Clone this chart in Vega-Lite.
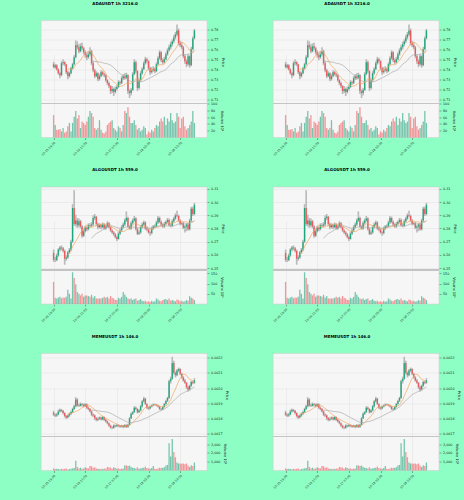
{
"$schema":"https://vega.github.io/schema/vega-lite/v6.json",
"background":"#8effc4",
"padding":{"left":40,"top":1.5,"right":3,"bottom":12},
"config":{
 "font":"DejaVu Sans",
 "view":{"stroke":"#cfcfcf","strokeWidth":0.6,"fill":"#f6f6f6"},
 "axis":{"labelFontSize":3.3,"titleFontSize":3.6,"titleFontWeight":"normal","tickSize":2,"tickWidth":0.5,"tickColor":"#555555","domain":false,"gridColor":"#e0e0e0","gridWidth":0.5,"labelColor":"#222222","titleColor":"#222222","labelPadding":1.5,"titlePadding":2.5,"labelOverlap":false,"labelFlush":false,"tickCount":30},
 "title":{"fontSize":4,"fontWeight":"bold","offset":14.5,"color":"#000000","anchor":"middle","dx":-9}
},
"datasets":{
"ada":[
{"t":"2025-10-15T15:00","o":0.745,"h":0.7475,"l":0.741,"c":0.742,"v":66},
{"t":"2025-10-15T16:00","o":0.742,"h":0.7455,"l":0.7405,"c":0.744,"v":37},
{"t":"2025-10-15T17:00","o":0.744,"h":0.745,"l":0.7385,"c":0.740,"v":23},
{"t":"2025-10-15T18:00","o":0.740,"h":0.741,"l":0.7345,"c":0.736,"v":23},
{"t":"2025-10-15T19:00","o":0.736,"h":0.7375,"l":0.731,"c":0.734,"v":25},
{"t":"2025-10-15T20:00","o":0.734,"h":0.748,"l":0.733,"c":0.746,"v":18},
{"t":"2025-10-15T21:00","o":0.746,"h":0.750,"l":0.744,"c":0.747,"v":28},
{"t":"2025-10-15T22:00","o":0.747,"h":0.748,"l":0.743,"c":0.745,"v":14},
{"t":"2025-10-15T23:00","o":0.745,"h":0.7455,"l":0.735,"c":0.737,"v":18},
{"t":"2025-10-16T00:00","o":0.737,"h":0.7385,"l":0.730,"c":0.733,"v":33},
{"t":"2025-10-16T01:00","o":0.733,"h":0.7375,"l":0.7315,"c":0.736,"v":43},
{"t":"2025-10-16T02:00","o":0.736,"h":0.7425,"l":0.735,"c":0.741,"v":18},
{"t":"2025-10-16T03:00","o":0.741,"h":0.7465,"l":0.7395,"c":0.745,"v":43},
{"t":"2025-10-16T04:00","o":0.745,"h":0.754,"l":0.744,"c":0.752,"v":61},
{"t":"2025-10-16T05:00","o":0.752,"h":0.769,"l":0.751,"c":0.764,"v":78},
{"t":"2025-10-16T06:00","o":0.764,"h":0.768,"l":0.760,"c":0.762,"v":56},
{"t":"2025-10-16T07:00","o":0.762,"h":0.765,"l":0.756,"c":0.758,"v":66},
{"t":"2025-10-16T08:00","o":0.758,"h":0.766,"l":0.757,"c":0.763,"v":28},
{"t":"2025-10-16T09:00","o":0.763,"h":0.7665,"l":0.759,"c":0.761,"v":47},
{"t":"2025-10-16T10:00","o":0.761,"h":0.7625,"l":0.755,"c":0.757,"v":43},
{"t":"2025-10-16T11:00","o":0.757,"h":0.759,"l":0.7515,"c":0.754,"v":37},
{"t":"2025-10-16T12:00","o":0.754,"h":0.7565,"l":0.749,"c":0.752,"v":47},
{"t":"2025-10-16T13:00","o":0.752,"h":0.758,"l":0.7505,"c":0.755,"v":61},
{"t":"2025-10-16T14:00","o":0.755,"h":0.762,"l":0.753,"c":0.758,"v":78},
{"t":"2025-10-16T15:00","o":0.758,"h":0.7595,"l":0.744,"c":0.746,"v":72},
{"t":"2025-10-16T16:00","o":0.746,"h":0.748,"l":0.737,"c":0.739,"v":61},
{"t":"2025-10-16T17:00","o":0.739,"h":0.7405,"l":0.731,"c":0.733,"v":28},
{"t":"2025-10-16T18:00","o":0.733,"h":0.738,"l":0.732,"c":0.736,"v":23},
{"t":"2025-10-16T19:00","o":0.736,"h":0.737,"l":0.728,"c":0.730,"v":28},
{"t":"2025-10-16T20:00","o":0.730,"h":0.7355,"l":0.7285,"c":0.733,"v":51},
{"t":"2025-10-16T21:00","o":0.733,"h":0.739,"l":0.732,"c":0.737,"v":23},
{"t":"2025-10-16T22:00","o":0.737,"h":0.7385,"l":0.7335,"c":0.735,"v":14},
{"t":"2025-10-16T23:00","o":0.735,"h":0.7365,"l":0.732,"c":0.734,"v":12},
{"t":"2025-10-17T00:00","o":0.734,"h":0.735,"l":0.7275,"c":0.729,"v":18},
{"t":"2025-10-17T01:00","o":0.729,"h":0.730,"l":0.724,"c":0.726,"v":37},
{"t":"2025-10-17T02:00","o":0.726,"h":0.7275,"l":0.721,"c":0.723,"v":43},
{"t":"2025-10-17T03:00","o":0.723,"h":0.724,"l":0.715,"c":0.718,"v":47},
{"t":"2025-10-17T04:00","o":0.718,"h":0.723,"l":0.716,"c":0.720,"v":51},
{"t":"2025-10-17T05:00","o":0.720,"h":0.7215,"l":0.713,"c":0.717,"v":28},
{"t":"2025-10-17T06:00","o":0.717,"h":0.7225,"l":0.7155,"c":0.720,"v":23},
{"t":"2025-10-17T07:00","o":0.720,"h":0.724,"l":0.7185,"c":0.722,"v":18},
{"t":"2025-10-17T08:00","o":0.722,"h":0.729,"l":0.721,"c":0.727,"v":33},
{"t":"2025-10-17T09:00","o":0.727,"h":0.7285,"l":0.724,"c":0.726,"v":28},
{"t":"2025-10-17T10:00","o":0.726,"h":0.733,"l":0.725,"c":0.731,"v":18},
{"t":"2025-10-17T11:00","o":0.731,"h":0.735,"l":0.729,"c":0.733,"v":37},
{"t":"2025-10-17T12:00","o":0.733,"h":0.736,"l":0.7295,"c":0.731,"v":78},
{"t":"2025-10-17T13:00","o":0.731,"h":0.7365,"l":0.730,"c":0.734,"v":72},
{"t":"2025-10-17T14:00","o":0.734,"h":0.735,"l":0.715,"c":0.718,"v":89},
{"t":"2025-10-17T15:00","o":0.718,"h":0.720,"l":0.711,"c":0.716,"v":61},
{"t":"2025-10-17T16:00","o":0.716,"h":0.721,"l":0.7135,"c":0.719,"v":43},
{"t":"2025-10-17T17:00","o":0.719,"h":0.737,"l":0.718,"c":0.735,"v":43},
{"t":"2025-10-17T18:00","o":0.735,"h":0.750,"l":0.734,"c":0.747,"v":51},
{"t":"2025-10-17T19:00","o":0.747,"h":0.7485,"l":0.736,"c":0.738,"v":37},
{"t":"2025-10-17T20:00","o":0.738,"h":0.739,"l":0.718,"c":0.721,"v":23},
{"t":"2025-10-17T21:00","o":0.721,"h":0.731,"l":0.7195,"c":0.729,"v":28},
{"t":"2025-10-17T22:00","o":0.729,"h":0.738,"l":0.7275,"c":0.736,"v":18},
{"t":"2025-10-17T23:00","o":0.736,"h":0.742,"l":0.7345,"c":0.740,"v":23},
{"t":"2025-10-18T00:00","o":0.740,"h":0.748,"l":0.739,"c":0.746,"v":33},
{"t":"2025-10-18T01:00","o":0.746,"h":0.7525,"l":0.7445,"c":0.750,"v":28},
{"t":"2025-10-18T02:00","o":0.750,"h":0.7515,"l":0.746,"c":0.748,"v":9},
{"t":"2025-10-18T03:00","o":0.748,"h":0.749,"l":0.739,"c":0.741,"v":18},
{"t":"2025-10-18T04:00","o":0.741,"h":0.7425,"l":0.7345,"c":0.737,"v":14},
{"t":"2025-10-18T05:00","o":0.737,"h":0.742,"l":0.7355,"c":0.739,"v":23},
{"t":"2025-10-18T06:00","o":0.739,"h":0.743,"l":0.7375,"c":0.740,"v":18},
{"t":"2025-10-18T07:00","o":0.740,"h":0.7415,"l":0.736,"c":0.738,"v":28},
{"t":"2025-10-18T08:00","o":0.738,"h":0.747,"l":0.737,"c":0.745,"v":37},
{"t":"2025-10-18T09:00","o":0.745,"h":0.753,"l":0.744,"c":0.751,"v":33},
{"t":"2025-10-18T10:00","o":0.751,"h":0.759,"l":0.7495,"c":0.757,"v":47},
{"t":"2025-10-18T11:00","o":0.757,"h":0.758,"l":0.747,"c":0.749,"v":56},
{"t":"2025-10-18T12:00","o":0.749,"h":0.751,"l":0.745,"c":0.747,"v":47},
{"t":"2025-10-18T13:00","o":0.747,"h":0.7525,"l":0.746,"c":0.750,"v":61},
{"t":"2025-10-18T14:00","o":0.750,"h":0.757,"l":0.749,"c":0.755,"v":37},
{"t":"2025-10-18T15:00","o":0.755,"h":0.761,"l":0.7535,"c":0.759,"v":56},
{"t":"2025-10-18T16:00","o":0.759,"h":0.7645,"l":0.7575,"c":0.762,"v":47},
{"t":"2025-10-18T17:00","o":0.762,"h":0.7675,"l":0.760,"c":0.765,"v":72},
{"t":"2025-10-18T18:00","o":0.765,"h":0.770,"l":0.763,"c":0.768,"v":51},
{"t":"2025-10-18T19:00","o":0.768,"h":0.7745,"l":0.766,"c":0.772,"v":43},
{"t":"2025-10-18T20:00","o":0.772,"h":0.7775,"l":0.770,"c":0.775,"v":47},
{"t":"2025-10-18T21:00","o":0.775,"h":0.785,"l":0.7735,"c":0.779,"v":72},
{"t":"2025-10-18T22:00","o":0.779,"h":0.781,"l":0.764,"c":0.766,"v":61},
{"t":"2025-10-18T23:00","o":0.766,"h":0.769,"l":0.762,"c":0.764,"v":28},
{"t":"2025-10-19T00:00","o":0.764,"h":0.767,"l":0.760,"c":0.762,"v":56},
{"t":"2025-10-19T01:00","o":0.762,"h":0.7635,"l":0.751,"c":0.753,"v":61},
{"t":"2025-10-19T02:00","o":0.753,"h":0.7545,"l":0.7455,"c":0.748,"v":33},
{"t":"2025-10-19T03:00","o":0.748,"h":0.750,"l":0.742,"c":0.745,"v":23},
{"t":"2025-10-19T04:00","o":0.745,"h":0.755,"l":0.7435,"c":0.753,"v":28},
{"t":"2025-10-19T05:00","o":0.753,"h":0.754,"l":0.7415,"c":0.744,"v":37},
{"t":"2025-10-19T06:00","o":0.744,"h":0.7625,"l":0.743,"c":0.760,"v":47},
{"t":"2025-10-19T07:00","o":0.760,"h":0.773,"l":0.759,"c":0.771,"v":78},
{"t":"2025-10-19T08:00","o":0.771,"h":0.7805,"l":0.770,"c":0.779,"v":43}
],
"algo":[
{"t":"2025-10-15T15:00","o":0.2614,"h":0.2640,"l":0.2548,"c":0.2563,"v":108},
{"t":"2025-10-15T16:00","o":0.2563,"h":0.2585,"l":0.2545,"c":0.2560,"v":30},
{"t":"2025-10-15T17:00","o":0.2560,"h":0.2610,"l":0.2552,"c":0.2595,"v":27},
{"t":"2025-10-15T18:00","o":0.2595,"h":0.2650,"l":0.2585,"c":0.2640,"v":32},
{"t":"2025-10-15T19:00","o":0.2640,"h":0.2668,"l":0.2625,"c":0.2655,"v":35},
{"t":"2025-10-15T20:00","o":0.2655,"h":0.2672,"l":0.2635,"c":0.2650,"v":28},
{"t":"2025-10-15T21:00","o":0.2650,"h":0.2660,"l":0.2618,"c":0.2630,"v":32},
{"t":"2025-10-15T22:00","o":0.2630,"h":0.2640,"l":0.2525,"c":0.2570,"v":30},
{"t":"2025-10-15T23:00","o":0.2570,"h":0.2598,"l":0.2555,"c":0.2580,"v":35},
{"t":"2025-10-16T00:00","o":0.2580,"h":0.2630,"l":0.2570,"c":0.2620,"v":70},
{"t":"2025-10-16T01:00","o":0.2620,"h":0.2652,"l":0.2608,"c":0.2640,"v":50},
{"t":"2025-10-16T02:00","o":0.2640,"h":0.2715,"l":0.2630,"c":0.2700,"v":27},
{"t":"2025-10-16T03:00","o":0.2700,"h":0.2985,"l":0.2690,"c":0.2956,"v":155},
{"t":"2025-10-16T04:00","o":0.2956,"h":0.3090,"l":0.2820,"c":0.2835,"v":127},
{"t":"2025-10-16T05:00","o":0.2835,"h":0.2905,"l":0.2815,"c":0.2860,"v":96},
{"t":"2025-10-16T06:00","o":0.2860,"h":0.2880,"l":0.2805,"c":0.2825,"v":58},
{"t":"2025-10-16T07:00","o":0.2825,"h":0.2875,"l":0.2810,"c":0.2855,"v":50},
{"t":"2025-10-16T08:00","o":0.2855,"h":0.2865,"l":0.2800,"c":0.2815,"v":42},
{"t":"2025-10-16T09:00","o":0.2815,"h":0.2825,"l":0.2730,"c":0.2745,"v":50},
{"t":"2025-10-16T10:00","o":0.2745,"h":0.2795,"l":0.2735,"c":0.2780,"v":35},
{"t":"2025-10-16T11:00","o":0.2780,"h":0.2820,"l":0.2770,"c":0.2805,"v":42},
{"t":"2025-10-16T12:00","o":0.2805,"h":0.2815,"l":0.2780,"c":0.2795,"v":42},
{"t":"2025-10-16T13:00","o":0.2795,"h":0.2840,"l":0.2785,"c":0.2825,"v":39},
{"t":"2025-10-16T14:00","o":0.2825,"h":0.2840,"l":0.2805,"c":0.2820,"v":35},
{"t":"2025-10-16T15:00","o":0.2820,"h":0.2850,"l":0.2810,"c":0.2830,"v":45},
{"t":"2025-10-16T16:00","o":0.2830,"h":0.2900,"l":0.2820,"c":0.2880,"v":30},
{"t":"2025-10-16T17:00","o":0.2880,"h":0.2910,"l":0.2865,"c":0.2890,"v":39},
{"t":"2025-10-16T18:00","o":0.2890,"h":0.2895,"l":0.2820,"c":0.2835,"v":27},
{"t":"2025-10-16T19:00","o":0.2835,"h":0.2845,"l":0.2795,"c":0.2810,"v":27},
{"t":"2025-10-16T20:00","o":0.2810,"h":0.2840,"l":0.2800,"c":0.2825,"v":27},
{"t":"2025-10-16T21:00","o":0.2825,"h":0.2835,"l":0.2795,"c":0.2810,"v":27},
{"t":"2025-10-16T22:00","o":0.2810,"h":0.2845,"l":0.2800,"c":0.2830,"v":30},
{"t":"2025-10-16T23:00","o":0.2830,"h":0.2840,"l":0.2790,"c":0.2800,"v":35},
{"t":"2025-10-17T00:00","o":0.2800,"h":0.2830,"l":0.2790,"c":0.2815,"v":30},
{"t":"2025-10-17T01:00","o":0.2815,"h":0.2855,"l":0.2805,"c":0.2840,"v":35},
{"t":"2025-10-17T02:00","o":0.2840,"h":0.2850,"l":0.2800,"c":0.2810,"v":27},
{"t":"2025-10-17T03:00","o":0.2810,"h":0.2820,"l":0.2775,"c":0.2785,"v":39},
{"t":"2025-10-17T04:00","o":0.2785,"h":0.2795,"l":0.2760,"c":0.2770,"v":30},
{"t":"2025-10-17T05:00","o":0.2770,"h":0.2780,"l":0.2745,"c":0.2755,"v":27},
{"t":"2025-10-17T06:00","o":0.2755,"h":0.2765,"l":0.2725,"c":0.2735,"v":19},
{"t":"2025-10-17T07:00","o":0.2735,"h":0.2745,"l":0.2705,"c":0.2720,"v":19},
{"t":"2025-10-17T08:00","o":0.2720,"h":0.2775,"l":0.2715,"c":0.2760,"v":30},
{"t":"2025-10-17T09:00","o":0.2760,"h":0.2800,"l":0.2750,"c":0.2785,"v":27},
{"t":"2025-10-17T10:00","o":0.2785,"h":0.2825,"l":0.2775,"c":0.2810,"v":35},
{"t":"2025-10-17T11:00","o":0.2810,"h":0.2845,"l":0.2800,"c":0.2830,"v":58},
{"t":"2025-10-17T12:00","o":0.2830,"h":0.2875,"l":0.2820,"c":0.2860,"v":46},
{"t":"2025-10-17T13:00","o":0.2860,"h":0.2930,"l":0.2850,"c":0.2880,"v":35},
{"t":"2025-10-17T14:00","o":0.2880,"h":0.2890,"l":0.2805,"c":0.2815,"v":27},
{"t":"2025-10-17T15:00","o":0.2815,"h":0.2825,"l":0.2790,"c":0.2800,"v":24},
{"t":"2025-10-17T16:00","o":0.2800,"h":0.2855,"l":0.2790,"c":0.2840,"v":27},
{"t":"2025-10-17T17:00","o":0.2840,"h":0.2875,"l":0.2830,"c":0.2860,"v":19},
{"t":"2025-10-17T18:00","o":0.2860,"h":0.2895,"l":0.2850,"c":0.2875,"v":24},
{"t":"2025-10-17T19:00","o":0.2875,"h":0.2885,"l":0.2785,"c":0.2795,"v":27},
{"t":"2025-10-17T20:00","o":0.2795,"h":0.2805,"l":0.2750,"c":0.2760,"v":16},
{"t":"2025-10-17T21:00","o":0.2760,"h":0.2785,"l":0.2750,"c":0.2770,"v":19},
{"t":"2025-10-17T22:00","o":0.2770,"h":0.2825,"l":0.2760,"c":0.2810,"v":24},
{"t":"2025-10-17T23:00","o":0.2810,"h":0.2845,"l":0.2800,"c":0.2830,"v":16},
{"t":"2025-10-18T00:00","o":0.2830,"h":0.2860,"l":0.2820,"c":0.2845,"v":13},
{"t":"2025-10-18T01:00","o":0.2845,"h":0.2855,"l":0.2790,"c":0.2800,"v":16},
{"t":"2025-10-18T02:00","o":0.2800,"h":0.2815,"l":0.2780,"c":0.2790,"v":11},
{"t":"2025-10-18T03:00","o":0.2790,"h":0.2800,"l":0.2760,"c":0.2770,"v":13},
{"t":"2025-10-18T04:00","o":0.2770,"h":0.2780,"l":0.2745,"c":0.2765,"v":10},
{"t":"2025-10-18T05:00","o":0.2765,"h":0.2815,"l":0.2755,"c":0.2800,"v":16},
{"t":"2025-10-18T06:00","o":0.2800,"h":0.2825,"l":0.2790,"c":0.2815,"v":11},
{"t":"2025-10-18T07:00","o":0.2815,"h":0.2830,"l":0.2805,"c":0.2820,"v":13},
{"t":"2025-10-18T08:00","o":0.2820,"h":0.2860,"l":0.2810,"c":0.2845,"v":27},
{"t":"2025-10-18T09:00","o":0.2845,"h":0.2895,"l":0.2835,"c":0.2880,"v":22},
{"t":"2025-10-18T10:00","o":0.2880,"h":0.2890,"l":0.2840,"c":0.2850,"v":16},
{"t":"2025-10-18T11:00","o":0.2850,"h":0.2860,"l":0.2820,"c":0.2830,"v":14},
{"t":"2025-10-18T12:00","o":0.2830,"h":0.2840,"l":0.2805,"c":0.2815,"v":19},
{"t":"2025-10-18T13:00","o":0.2815,"h":0.2850,"l":0.2805,"c":0.2835,"v":22},
{"t":"2025-10-18T14:00","o":0.2835,"h":0.2860,"l":0.2825,"c":0.2850,"v":24},
{"t":"2025-10-18T15:00","o":0.2850,"h":0.2880,"l":0.2840,"c":0.2865,"v":19},
{"t":"2025-10-18T16:00","o":0.2865,"h":0.2875,"l":0.2815,"c":0.2825,"v":27},
{"t":"2025-10-18T17:00","o":0.2825,"h":0.2840,"l":0.2810,"c":0.2820,"v":16},
{"t":"2025-10-18T18:00","o":0.2820,"h":0.2870,"l":0.2810,"c":0.2855,"v":19},
{"t":"2025-10-18T19:00","o":0.2855,"h":0.2890,"l":0.2845,"c":0.2875,"v":16},
{"t":"2025-10-18T20:00","o":0.2875,"h":0.2915,"l":0.2865,"c":0.2900,"v":13},
{"t":"2025-10-18T21:00","o":0.2900,"h":0.2935,"l":0.2885,"c":0.2895,"v":22},
{"t":"2025-10-18T22:00","o":0.2895,"h":0.2905,"l":0.2850,"c":0.2860,"v":19},
{"t":"2025-10-18T23:00","o":0.2860,"h":0.2870,"l":0.2825,"c":0.2835,"v":14},
{"t":"2025-10-19T00:00","o":0.2835,"h":0.2850,"l":0.2825,"c":0.2840,"v":16},
{"t":"2025-10-19T01:00","o":0.2840,"h":0.2850,"l":0.2795,"c":0.2805,"v":11},
{"t":"2025-10-19T02:00","o":0.2805,"h":0.2825,"l":0.2770,"c":0.2815,"v":13},
{"t":"2025-10-19T03:00","o":0.2815,"h":0.2840,"l":0.2780,"c":0.2830,"v":19},
{"t":"2025-10-19T04:00","o":0.2830,"h":0.2840,"l":0.2785,"c":0.2795,"v":16},
{"t":"2025-10-19T05:00","o":0.2795,"h":0.2875,"l":0.2785,"c":0.2860,"v":38},
{"t":"2025-10-19T06:00","o":0.2860,"h":0.2965,"l":0.2850,"c":0.2950,"v":30},
{"t":"2025-10-19T07:00","o":0.2950,"h":0.2965,"l":0.2895,"c":0.2910,"v":27},
{"t":"2025-10-19T08:00","o":0.2910,"h":0.2995,"l":0.2900,"c":0.2980,"v":19}
],
"meme":[
{"t":"2025-10-15T15:00","o":0.001838,"h":0.001850,"l":0.001815,"c":0.001825,"v":240},
{"t":"2025-10-15T16:00","o":0.001825,"h":0.001832,"l":0.001808,"c":0.001818,"v":160},
{"t":"2025-10-15T17:00","o":0.001818,"h":0.001835,"l":0.001810,"c":0.001825,"v":200},
{"t":"2025-10-15T18:00","o":0.001825,"h":0.001858,"l":0.001820,"c":0.001845,"v":160},
{"t":"2025-10-15T19:00","o":0.001845,"h":0.001865,"l":0.001838,"c":0.001855,"v":120},
{"t":"2025-10-15T20:00","o":0.001855,"h":0.001862,"l":0.001840,"c":0.001850,"v":200},
{"t":"2025-10-15T21:00","o":0.001850,"h":0.001855,"l":0.001825,"c":0.001835,"v":160},
{"t":"2025-10-15T22:00","o":0.001835,"h":0.001840,"l":0.001805,"c":0.001815,"v":200},
{"t":"2025-10-15T23:00","o":0.001815,"h":0.001822,"l":0.001795,"c":0.001805,"v":240},
{"t":"2025-10-16T00:00","o":0.001805,"h":0.001825,"l":0.001800,"c":0.001818,"v":120},
{"t":"2025-10-16T01:00","o":0.001818,"h":0.001838,"l":0.001810,"c":0.001830,"v":160},
{"t":"2025-10-16T02:00","o":0.001830,"h":0.001850,"l":0.001822,"c":0.001842,"v":200},
{"t":"2025-10-16T03:00","o":0.001842,"h":0.001870,"l":0.001835,"c":0.001862,"v":240},
{"t":"2025-10-16T04:00","o":0.001862,"h":0.001890,"l":0.001855,"c":0.001880,"v":280},
{"t":"2025-10-16T05:00","o":0.001880,"h":0.001940,"l":0.001872,"c":0.001925,"v":1120},
{"t":"2025-10-16T06:00","o":0.001925,"h":0.001932,"l":0.001878,"c":0.001885,"v":400},
{"t":"2025-10-16T07:00","o":0.001885,"h":0.001898,"l":0.001875,"c":0.001882,"v":240},
{"t":"2025-10-16T08:00","o":0.001882,"h":0.001905,"l":0.001878,"c":0.001895,"v":320},
{"t":"2025-10-16T09:00","o":0.001895,"h":0.001902,"l":0.001880,"c":0.001890,"v":200},
{"t":"2025-10-16T10:00","o":0.001890,"h":0.001898,"l":0.001872,"c":0.001880,"v":240},
{"t":"2025-10-16T11:00","o":0.001880,"h":0.001900,"l":0.001875,"c":0.001893,"v":360},
{"t":"2025-10-16T12:00","o":0.001893,"h":0.001898,"l":0.001862,"c":0.001870,"v":280},
{"t":"2025-10-16T13:00","o":0.001870,"h":0.001878,"l":0.001852,"c":0.001862,"v":240},
{"t":"2025-10-16T14:00","o":0.001862,"h":0.001868,"l":0.001838,"c":0.001845,"v":520},
{"t":"2025-10-16T15:00","o":0.001845,"h":0.001852,"l":0.001815,"c":0.001825,"v":480},
{"t":"2025-10-16T16:00","o":0.001825,"h":0.001832,"l":0.001808,"c":0.001818,"v":320},
{"t":"2025-10-16T17:00","o":0.001818,"h":0.001825,"l":0.001790,"c":0.001800,"v":360},
{"t":"2025-10-16T18:00","o":0.001800,"h":0.001808,"l":0.001780,"c":0.001790,"v":240},
{"t":"2025-10-16T19:00","o":0.001790,"h":0.001805,"l":0.001782,"c":0.001798,"v":200},
{"t":"2025-10-16T20:00","o":0.001798,"h":0.001812,"l":0.001790,"c":0.001805,"v":160},
{"t":"2025-10-16T21:00","o":0.001805,"h":0.001810,"l":0.001785,"c":0.001792,"v":200},
{"t":"2025-10-16T22:00","o":0.001792,"h":0.001815,"l":0.001788,"c":0.001808,"v":160},
{"t":"2025-10-16T23:00","o":0.001808,"h":0.001812,"l":0.001782,"c":0.001790,"v":240},
{"t":"2025-10-17T00:00","o":0.001790,"h":0.001795,"l":0.001772,"c":0.001780,"v":200},
{"t":"2025-10-17T01:00","o":0.001780,"h":0.001786,"l":0.001760,"c":0.001768,"v":400},
{"t":"2025-10-17T02:00","o":0.001768,"h":0.001772,"l":0.001745,"c":0.001752,"v":360},
{"t":"2025-10-17T03:00","o":0.001752,"h":0.001758,"l":0.001732,"c":0.001740,"v":320},
{"t":"2025-10-17T04:00","o":0.001740,"h":0.001748,"l":0.001728,"c":0.001738,"v":200},
{"t":"2025-10-17T05:00","o":0.001738,"h":0.001760,"l":0.001732,"c":0.001752,"v":360},
{"t":"2025-10-17T06:00","o":0.001752,"h":0.001758,"l":0.001740,"c":0.001748,"v":280},
{"t":"2025-10-17T07:00","o":0.001748,"h":0.001762,"l":0.001742,"c":0.001755,"v":200},
{"t":"2025-10-17T08:00","o":0.001755,"h":0.001760,"l":0.001742,"c":0.001750,"v":240},
{"t":"2025-10-17T09:00","o":0.001750,"h":0.001756,"l":0.001738,"c":0.001745,"v":160},
{"t":"2025-10-17T10:00","o":0.001745,"h":0.001758,"l":0.001740,"c":0.001752,"v":200},
{"t":"2025-10-17T11:00","o":0.001752,"h":0.001756,"l":0.001735,"c":0.001742,"v":240},
{"t":"2025-10-17T12:00","o":0.001742,"h":0.001762,"l":0.001738,"c":0.001755,"v":560},
{"t":"2025-10-17T13:00","o":0.001755,"h":0.001760,"l":0.001736,"c":0.001743,"v":600},
{"t":"2025-10-17T14:00","o":0.001743,"h":0.001765,"l":0.001738,"c":0.001758,"v":520},
{"t":"2025-10-17T15:00","o":0.001758,"h":0.001808,"l":0.001752,"c":0.001800,"v":560},
{"t":"2025-10-17T16:00","o":0.001800,"h":0.001838,"l":0.001795,"c":0.001830,"v":400},
{"t":"2025-10-17T17:00","o":0.001830,"h":0.001848,"l":0.001822,"c":0.001840,"v":320},
{"t":"2025-10-17T18:00","o":0.001840,"h":0.001880,"l":0.001835,"c":0.001870,"v":280},
{"t":"2025-10-17T19:00","o":0.001870,"h":0.001878,"l":0.001855,"c":0.001862,"v":240},
{"t":"2025-10-17T20:00","o":0.001862,"h":0.001866,"l":0.001832,"c":0.001840,"v":360},
{"t":"2025-10-17T21:00","o":0.001840,"h":0.001860,"l":0.001835,"c":0.001852,"v":200},
{"t":"2025-10-17T22:00","o":0.001852,"h":0.001888,"l":0.001845,"c":0.001880,"v":240},
{"t":"2025-10-17T23:00","o":0.001880,"h":0.001920,"l":0.001872,"c":0.001912,"v":280},
{"t":"2025-10-18T00:00","o":0.001912,"h":0.001942,"l":0.001905,"c":0.001930,"v":320},
{"t":"2025-10-18T01:00","o":0.001930,"h":0.001935,"l":0.001888,"c":0.001895,"v":440},
{"t":"2025-10-18T02:00","o":0.001895,"h":0.001900,"l":0.001862,"c":0.001870,"v":280},
{"t":"2025-10-18T03:00","o":0.001870,"h":0.001876,"l":0.001855,"c":0.001865,"v":240},
{"t":"2025-10-18T04:00","o":0.001865,"h":0.001885,"l":0.001860,"c":0.001878,"v":200},
{"t":"2025-10-18T05:00","o":0.001878,"h":0.001892,"l":0.001872,"c":0.001885,"v":280},
{"t":"2025-10-18T06:00","o":0.001885,"h":0.001898,"l":0.001880,"c":0.001892,"v":520},
{"t":"2025-10-18T07:00","o":0.001892,"h":0.001898,"l":0.001884,"c":0.001890,"v":200},
{"t":"2025-10-18T08:00","o":0.001890,"h":0.001895,"l":0.001880,"c":0.001885,"v":160},
{"t":"2025-10-18T09:00","o":0.001885,"h":0.001890,"l":0.001872,"c":0.001878,"v":240},
{"t":"2025-10-18T10:00","o":0.001878,"h":0.001882,"l":0.001855,"c":0.001862,"v":320},
{"t":"2025-10-18T11:00","o":0.001862,"h":0.001868,"l":0.001852,"c":0.001860,"v":280},
{"t":"2025-10-18T12:00","o":0.001860,"h":0.001882,"l":0.001855,"c":0.001875,"v":320},
{"t":"2025-10-18T13:00","o":0.001875,"h":0.001902,"l":0.001870,"c":0.001895,"v":360},
{"t":"2025-10-18T14:00","o":0.001895,"h":0.001922,"l":0.001890,"c":0.001915,"v":560},
{"t":"2025-10-18T15:00","o":0.001915,"h":0.001942,"l":0.001908,"c":0.001935,"v":640},
{"t":"2025-10-18T16:00","o":0.001935,"h":0.002055,"l":0.001930,"c":0.002045,"v":3120},
{"t":"2025-10-18T17:00","o":0.002045,"h":0.002075,"l":0.002030,"c":0.002060,"v":1600},
{"t":"2025-10-18T18:00","o":0.002060,"h":0.002207,"l":0.002055,"c":0.002165,"v":3600},
{"t":"2025-10-18T19:00","o":0.002165,"h":0.002180,"l":0.002090,"c":0.002100,"v":2120},
{"t":"2025-10-18T20:00","o":0.002100,"h":0.002110,"l":0.002070,"c":0.002085,"v":1520},
{"t":"2025-10-18T21:00","o":0.002085,"h":0.002125,"l":0.002078,"c":0.002115,"v":920},
{"t":"2025-10-18T22:00","o":0.002115,"h":0.002135,"l":0.002105,"c":0.002125,"v":800},
{"t":"2025-10-18T23:00","o":0.002125,"h":0.002130,"l":0.002085,"c":0.002095,"v":800},
{"t":"2025-10-19T00:00","o":0.002095,"h":0.002100,"l":0.002062,"c":0.002070,"v":760},
{"t":"2025-10-19T01:00","o":0.002070,"h":0.002078,"l":0.002042,"c":0.002050,"v":800},
{"t":"2025-10-19T02:00","o":0.002050,"h":0.002060,"l":0.002028,"c":0.002035,"v":720},
{"t":"2025-10-19T03:00","o":0.002035,"h":0.002040,"l":0.001995,"c":0.002005,"v":800},
{"t":"2025-10-19T04:00","o":0.002005,"h":0.002015,"l":0.001975,"c":0.001990,"v":560},
{"t":"2025-10-19T05:00","o":0.001990,"h":0.002022,"l":0.001982,"c":0.002015,"v":400},
{"t":"2025-10-19T06:00","o":0.002015,"h":0.002048,"l":0.002008,"c":0.002040,"v":600},
{"t":"2025-10-19T07:00","o":0.002040,"h":0.002050,"l":0.002025,"c":0.002035,"v":520},
{"t":"2025-10-19T08:00","o":0.002035,"h":0.002065,"l":0.002028,"c":0.002050,"v":920}
]
},
"columns":2,
"spacing":{"row":49.5,"column":66},
"bounds":"flush",
"concat":[
{"width":166,"height":117,"title":{"text":"ADAUSDT 1h 3216.0"},"data":{"name":"ada"},
 "layer":[
  {"layer":[
   {"mark":{"type":"rule","color":"#b9b9b9","strokeWidth":1.6},"encoding":{"x":{"field":"t","type":"temporal","title":null,"scale":{"domain":[{"year":2025,"month":10,"date":15,"hours":10,"minutes":12},{"year":2025,"month":10,"date":19,"hours":12,"minutes":48}]},"axis":{"values":[{"year":2025,"month":10,"date":15,"hours":15},{"year":2025,"month":10,"date":16,"hours":11},{"year":2025,"month":10,"date":17,"hours":7},{"year":2025,"month":10,"date":18,"hours":3},{"year":2025,"month":10,"date":18,"hours":23}],"format":"%m-%d %H:%M","labelAngle":-45,"labelFontSize":3,"tickCount":30}},"y":{"field":"l","type":"quantitative","title":"Price","scale":{"domain":[0.7055,0.789],"range":[83,0],"nice":false,"zero":false},"axis":{"orient":"right","values":[0.71,0.72,0.73,0.74,0.75,0.76,0.77,0.78],"format":".2f","tickCount":30}},"y2":{"field":"h"}}},
   {"mark":{"type":"bar","size":1.3},"encoding":{"x":{"field":"t","type":"temporal","title":null},"y":{"field":"o","type":"quantitative","title":"Price"},"y2":{"field":"c"},"color":{"condition":{"test":"datum.c >= datum.o","value":"#1fa77b"},"value":"#f0575c"}}},
   {"transform":[{"window":[{"op":"mean","field":"c","as":"m"},{"op":"count","as":"n"}],"frame":[-9,0],"sort":[{"field":"t"}]},{"filter":"datum.n >= 10"}],"mark":{"type":"line","color":"#f3a65a","strokeWidth":0.7},"encoding":{"x":{"field":"t","type":"temporal","title":null},"y":{"field":"m","type":"quantitative","title":"Price"}}},
   {"transform":[{"window":[{"op":"mean","field":"c","as":"m"},{"op":"count","as":"n"}],"frame":[-24,0],"sort":[{"field":"t"}]},{"filter":"datum.n >= 25"}],"mark":{"type":"line","color":"#a9a9a9","strokeWidth":0.7},"encoding":{"x":{"field":"t","type":"temporal","title":null},"y":{"field":"m","type":"quantitative","title":"Price"}}}
  ]},
  {"layer":[
   {"mark":{"type":"bar","size":1.3,"opacity":0.6},"encoding":{"x":{"field":"t","type":"temporal","title":null},"y":{"field":"v","type":"quantitative","title":"Volume  10⁶","scale":{"domain":[0,100],"range":[117,83],"nice":false},"axis":{"orient":"right","values":[20,40,60,80,100],"tickCount":30}},"color":{"condition":{"test":"datum.c >= datum.o","value":"#1fa77b"},"value":"#f0575c"}}},
   {"mark":{"type":"rule","color":"#c4c4c4","strokeWidth":0.6},"encoding":{"y":{"datum":100,"type":"quantitative"}}}
  ]}
 ],
 "resolve":{"scale":{"y":"independent"},"axis":{"y":"independent"}}},
{"width":166,"height":117,"title":{"text":"ADAUSDT 1h 3216.0"},"data":{"name":"ada"},
 "layer":[
  {"layer":[
   {"mark":{"type":"rule","color":"#b9b9b9","strokeWidth":1.6},"encoding":{"x":{"field":"t","type":"temporal","title":null,"scale":{"domain":[{"year":2025,"month":10,"date":15,"hours":10,"minutes":12},{"year":2025,"month":10,"date":19,"hours":12,"minutes":48}]},"axis":{"values":[{"year":2025,"month":10,"date":15,"hours":15},{"year":2025,"month":10,"date":16,"hours":11},{"year":2025,"month":10,"date":17,"hours":7},{"year":2025,"month":10,"date":18,"hours":3},{"year":2025,"month":10,"date":18,"hours":23}],"format":"%m-%d %H:%M","labelAngle":-45,"labelFontSize":3,"tickCount":30}},"y":{"field":"l","type":"quantitative","title":"Price","scale":{"domain":[0.7055,0.789],"range":[83,0],"nice":false,"zero":false},"axis":{"orient":"right","values":[0.71,0.72,0.73,0.74,0.75,0.76,0.77,0.78],"format":".2f","tickCount":30}},"y2":{"field":"h"}}},
   {"mark":{"type":"bar","size":1.3},"encoding":{"x":{"field":"t","type":"temporal","title":null},"y":{"field":"o","type":"quantitative","title":"Price"},"y2":{"field":"c"},"color":{"condition":{"test":"datum.c >= datum.o","value":"#1fa77b"},"value":"#f0575c"}}},
   {"transform":[{"window":[{"op":"mean","field":"c","as":"m"},{"op":"count","as":"n"}],"frame":[-9,0],"sort":[{"field":"t"}]},{"filter":"datum.n >= 10"}],"mark":{"type":"line","color":"#f3a65a","strokeWidth":0.7},"encoding":{"x":{"field":"t","type":"temporal","title":null},"y":{"field":"m","type":"quantitative","title":"Price"}}},
   {"transform":[{"window":[{"op":"mean","field":"c","as":"m"},{"op":"count","as":"n"}],"frame":[-24,0],"sort":[{"field":"t"}]},{"filter":"datum.n >= 25"}],"mark":{"type":"line","color":"#a9a9a9","strokeWidth":0.7},"encoding":{"x":{"field":"t","type":"temporal","title":null},"y":{"field":"m","type":"quantitative","title":"Price"}}}
  ]},
  {"layer":[
   {"mark":{"type":"bar","size":1.3,"opacity":0.6},"encoding":{"x":{"field":"t","type":"temporal","title":null},"y":{"field":"v","type":"quantitative","title":"Volume  10⁶","scale":{"domain":[0,100],"range":[117,83],"nice":false},"axis":{"orient":"right","values":[20,40,60,80,100],"tickCount":30}},"color":{"condition":{"test":"datum.c >= datum.o","value":"#1fa77b"},"value":"#f0575c"}}},
   {"mark":{"type":"rule","color":"#c4c4c4","strokeWidth":0.6},"encoding":{"y":{"datum":100,"type":"quantitative"}}}
  ]}
 ],
 "resolve":{"scale":{"y":"independent"},"axis":{"y":"independent"}}},
{"width":166,"height":117,"title":{"text":"ALGOUSDT 1h 559.0"},"data":{"name":"algo"},
 "layer":[
  {"layer":[
   {"mark":{"type":"rule","color":"#b9b9b9","strokeWidth":1.6},"encoding":{"x":{"field":"t","type":"temporal","title":null,"scale":{"domain":[{"year":2025,"month":10,"date":15,"hours":10,"minutes":12},{"year":2025,"month":10,"date":19,"hours":12,"minutes":48}]},"axis":{"values":[{"year":2025,"month":10,"date":15,"hours":15},{"year":2025,"month":10,"date":16,"hours":11},{"year":2025,"month":10,"date":17,"hours":7},{"year":2025,"month":10,"date":18,"hours":3},{"year":2025,"month":10,"date":18,"hours":23}],"format":"%m-%d %H:%M","labelAngle":-45,"labelFontSize":3,"tickCount":30}},"y":{"field":"l","type":"quantitative","title":"Price","scale":{"domain":[0.2485,0.3115],"range":[83,0],"nice":false,"zero":false},"axis":{"orient":"right","values":[0.25,0.26,0.27,0.28,0.29,0.30,0.31],"format":".2f","tickCount":30}},"y2":{"field":"h"}}},
   {"mark":{"type":"bar","size":1.3},"encoding":{"x":{"field":"t","type":"temporal","title":null},"y":{"field":"o","type":"quantitative","title":"Price"},"y2":{"field":"c"},"color":{"condition":{"test":"datum.c >= datum.o","value":"#1fa77b"},"value":"#f0575c"}}},
   {"transform":[{"window":[{"op":"mean","field":"c","as":"m"},{"op":"count","as":"n"}],"frame":[-9,0],"sort":[{"field":"t"}]},{"filter":"datum.n >= 10"}],"mark":{"type":"line","color":"#f3a65a","strokeWidth":0.7},"encoding":{"x":{"field":"t","type":"temporal","title":null},"y":{"field":"m","type":"quantitative","title":"Price"}}},
   {"transform":[{"window":[{"op":"mean","field":"c","as":"m"},{"op":"count","as":"n"}],"frame":[-24,0],"sort":[{"field":"t"}]},{"filter":"datum.n >= 25"}],"mark":{"type":"line","color":"#a9a9a9","strokeWidth":0.7},"encoding":{"x":{"field":"t","type":"temporal","title":null},"y":{"field":"m","type":"quantitative","title":"Price"}}}
  ]},
  {"layer":[
   {"mark":{"type":"bar","size":1.3,"opacity":0.6},"encoding":{"x":{"field":"t","type":"temporal","title":null},"y":{"field":"v","type":"quantitative","title":"Volume  10⁶","scale":{"domain":[0,166],"range":[117,83],"nice":false},"axis":{"orient":"right","values":[50,100,150],"tickCount":30}},"color":{"condition":{"test":"datum.c >= datum.o","value":"#1fa77b"},"value":"#f0575c"}}},
   {"mark":{"type":"rule","color":"#c4c4c4","strokeWidth":0.6},"encoding":{"y":{"datum":166,"type":"quantitative"}}}
  ]}
 ],
 "resolve":{"scale":{"y":"independent"},"axis":{"y":"independent"}}},
{"width":166,"height":117,"title":{"text":"ALGOUSDT 1h 559.0"},"data":{"name":"algo"},
 "layer":[
  {"layer":[
   {"mark":{"type":"rule","color":"#b9b9b9","strokeWidth":1.6},"encoding":{"x":{"field":"t","type":"temporal","title":null,"scale":{"domain":[{"year":2025,"month":10,"date":15,"hours":10,"minutes":12},{"year":2025,"month":10,"date":19,"hours":12,"minutes":48}]},"axis":{"values":[{"year":2025,"month":10,"date":15,"hours":15},{"year":2025,"month":10,"date":16,"hours":11},{"year":2025,"month":10,"date":17,"hours":7},{"year":2025,"month":10,"date":18,"hours":3},{"year":2025,"month":10,"date":18,"hours":23}],"format":"%m-%d %H:%M","labelAngle":-45,"labelFontSize":3,"tickCount":30}},"y":{"field":"l","type":"quantitative","title":"Price","scale":{"domain":[0.2485,0.3115],"range":[83,0],"nice":false,"zero":false},"axis":{"orient":"right","values":[0.25,0.26,0.27,0.28,0.29,0.30,0.31],"format":".2f","tickCount":30}},"y2":{"field":"h"}}},
   {"mark":{"type":"bar","size":1.3},"encoding":{"x":{"field":"t","type":"temporal","title":null},"y":{"field":"o","type":"quantitative","title":"Price"},"y2":{"field":"c"},"color":{"condition":{"test":"datum.c >= datum.o","value":"#1fa77b"},"value":"#f0575c"}}},
   {"transform":[{"window":[{"op":"mean","field":"c","as":"m"},{"op":"count","as":"n"}],"frame":[-9,0],"sort":[{"field":"t"}]},{"filter":"datum.n >= 10"}],"mark":{"type":"line","color":"#f3a65a","strokeWidth":0.7},"encoding":{"x":{"field":"t","type":"temporal","title":null},"y":{"field":"m","type":"quantitative","title":"Price"}}},
   {"transform":[{"window":[{"op":"mean","field":"c","as":"m"},{"op":"count","as":"n"}],"frame":[-24,0],"sort":[{"field":"t"}]},{"filter":"datum.n >= 25"}],"mark":{"type":"line","color":"#a9a9a9","strokeWidth":0.7},"encoding":{"x":{"field":"t","type":"temporal","title":null},"y":{"field":"m","type":"quantitative","title":"Price"}}}
  ]},
  {"layer":[
   {"mark":{"type":"bar","size":1.3,"opacity":0.6},"encoding":{"x":{"field":"t","type":"temporal","title":null},"y":{"field":"v","type":"quantitative","title":"Volume  10⁶","scale":{"domain":[0,166],"range":[117,83],"nice":false},"axis":{"orient":"right","values":[50,100,150],"tickCount":30}},"color":{"condition":{"test":"datum.c >= datum.o","value":"#1fa77b"},"value":"#f0575c"}}},
   {"mark":{"type":"rule","color":"#c4c4c4","strokeWidth":0.6},"encoding":{"y":{"datum":166,"type":"quantitative"}}}
  ]}
 ],
 "resolve":{"scale":{"y":"independent"},"axis":{"y":"independent"}}},
{"width":166,"height":117,"title":{"text":"MEMEUSDT 1h 146.0"},"data":{"name":"meme"},
 "layer":[
  {"layer":[
   {"mark":{"type":"rule","color":"#b9b9b9","strokeWidth":1.6},"encoding":{"x":{"field":"t","type":"temporal","title":null,"scale":{"domain":[{"year":2025,"month":10,"date":15,"hours":10,"minutes":12},{"year":2025,"month":10,"date":19,"hours":12,"minutes":48}]},"axis":{"values":[{"year":2025,"month":10,"date":15,"hours":15},{"year":2025,"month":10,"date":16,"hours":11},{"year":2025,"month":10,"date":17,"hours":7},{"year":2025,"month":10,"date":18,"hours":3},{"year":2025,"month":10,"date":18,"hours":23}],"format":"%m-%d %H:%M","labelAngle":-45,"labelFontSize":3,"tickCount":30}},"y":{"field":"l","type":"quantitative","title":"Price","scale":{"domain":[0.00168,0.002228],"range":[83,0],"nice":false,"zero":false},"axis":{"orient":"right","values":[0.0017,0.0018,0.0019,0.0020,0.0021,0.0022],"format":".4f","tickCount":30}},"y2":{"field":"h"}}},
   {"mark":{"type":"bar","size":1.3},"encoding":{"x":{"field":"t","type":"temporal","title":null},"y":{"field":"o","type":"quantitative","title":"Price"},"y2":{"field":"c"},"color":{"condition":{"test":"datum.c >= datum.o","value":"#1fa77b"},"value":"#f0575c"}}},
   {"transform":[{"window":[{"op":"mean","field":"c","as":"m"},{"op":"count","as":"n"}],"frame":[-9,0],"sort":[{"field":"t"}]},{"filter":"datum.n >= 10"}],"mark":{"type":"line","color":"#f3a65a","strokeWidth":0.7},"encoding":{"x":{"field":"t","type":"temporal","title":null},"y":{"field":"m","type":"quantitative","title":"Price"}}},
   {"transform":[{"window":[{"op":"mean","field":"c","as":"m"},{"op":"count","as":"n"}],"frame":[-24,0],"sort":[{"field":"t"}]},{"filter":"datum.n >= 25"}],"mark":{"type":"line","color":"#a9a9a9","strokeWidth":0.7},"encoding":{"x":{"field":"t","type":"temporal","title":null},"y":{"field":"m","type":"quantitative","title":"Price"}}}
  ]},
  {"layer":[
   {"mark":{"type":"bar","size":1.3,"opacity":0.6},"encoding":{"x":{"field":"t","type":"temporal","title":null},"y":{"field":"v","type":"quantitative","title":"Volume  10⁶","scale":{"domain":[0,3880],"range":[117,83],"nice":false},"axis":{"orient":"right","values":[1000,2000,3000],"tickCount":30}},"color":{"condition":{"test":"datum.c >= datum.o","value":"#1fa77b"},"value":"#f0575c"}}},
   {"mark":{"type":"rule","color":"#c4c4c4","strokeWidth":0.6},"encoding":{"y":{"datum":3880,"type":"quantitative"}}}
  ]}
 ],
 "resolve":{"scale":{"y":"independent"},"axis":{"y":"independent"}}},
{"width":166,"height":117,"title":{"text":"MEMEUSDT 1h 146.0"},"data":{"name":"meme"},
 "layer":[
  {"layer":[
   {"mark":{"type":"rule","color":"#b9b9b9","strokeWidth":1.6},"encoding":{"x":{"field":"t","type":"temporal","title":null,"scale":{"domain":[{"year":2025,"month":10,"date":15,"hours":10,"minutes":12},{"year":2025,"month":10,"date":19,"hours":12,"minutes":48}]},"axis":{"values":[{"year":2025,"month":10,"date":15,"hours":15},{"year":2025,"month":10,"date":16,"hours":11},{"year":2025,"month":10,"date":17,"hours":7},{"year":2025,"month":10,"date":18,"hours":3},{"year":2025,"month":10,"date":18,"hours":23}],"format":"%m-%d %H:%M","labelAngle":-45,"labelFontSize":3,"tickCount":30}},"y":{"field":"l","type":"quantitative","title":"Price","scale":{"domain":[0.00168,0.002228],"range":[83,0],"nice":false,"zero":false},"axis":{"orient":"right","values":[0.0017,0.0018,0.0019,0.0020,0.0021,0.0022],"format":".4f","tickCount":30}},"y2":{"field":"h"}}},
   {"mark":{"type":"bar","size":1.3},"encoding":{"x":{"field":"t","type":"temporal","title":null},"y":{"field":"o","type":"quantitative","title":"Price"},"y2":{"field":"c"},"color":{"condition":{"test":"datum.c >= datum.o","value":"#1fa77b"},"value":"#f0575c"}}},
   {"transform":[{"window":[{"op":"mean","field":"c","as":"m"},{"op":"count","as":"n"}],"frame":[-9,0],"sort":[{"field":"t"}]},{"filter":"datum.n >= 10"}],"mark":{"type":"line","color":"#f3a65a","strokeWidth":0.7},"encoding":{"x":{"field":"t","type":"temporal","title":null},"y":{"field":"m","type":"quantitative","title":"Price"}}},
   {"transform":[{"window":[{"op":"mean","field":"c","as":"m"},{"op":"count","as":"n"}],"frame":[-24,0],"sort":[{"field":"t"}]},{"filter":"datum.n >= 25"}],"mark":{"type":"line","color":"#a9a9a9","strokeWidth":0.7},"encoding":{"x":{"field":"t","type":"temporal","title":null},"y":{"field":"m","type":"quantitative","title":"Price"}}}
  ]},
  {"layer":[
   {"mark":{"type":"bar","size":1.3,"opacity":0.6},"encoding":{"x":{"field":"t","type":"temporal","title":null},"y":{"field":"v","type":"quantitative","title":"Volume  10⁶","scale":{"domain":[0,3880],"range":[117,83],"nice":false},"axis":{"orient":"right","values":[1000,2000,3000],"tickCount":30}},"color":{"condition":{"test":"datum.c >= datum.o","value":"#1fa77b"},"value":"#f0575c"}}},
   {"mark":{"type":"rule","color":"#c4c4c4","strokeWidth":0.6},"encoding":{"y":{"datum":3880,"type":"quantitative"}}}
  ]}
 ],
 "resolve":{"scale":{"y":"independent"},"axis":{"y":"independent"}}}
]
}
